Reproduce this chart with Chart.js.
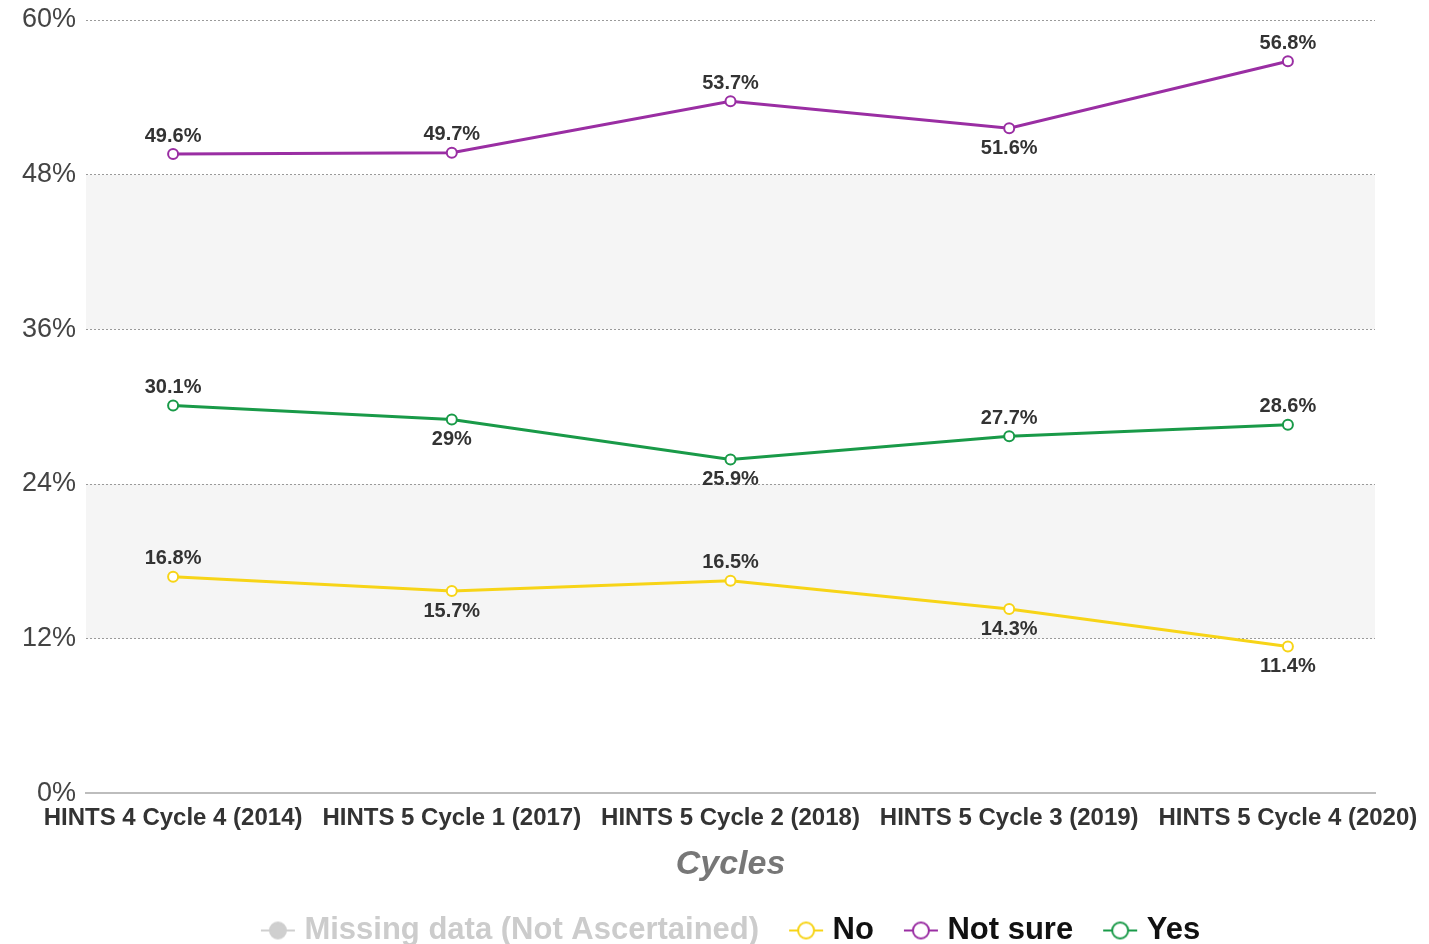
<!DOCTYPE html>
<html>
<head>
<meta charset="utf-8">
<script src="https://cdn.jsdelivr.net/npm/chart.js@4"></script>
<style>
  html, body { margin: 0; padding: 0; background: #fff; }
  #wrap { width: 1429px; height: 944px; }
</style>
</head>
<body>
<div id="wrap"><canvas id="grafico"></canvas></div>
<script>
// dati
var cicli = ['HINTS 4 Cycle 4 (2014)', 'HINTS 5 Cycle 1 (2017)', 'HINTS 5 Cycle 2 (2018)', 'HINTS 5 Cycle 3 (2019)', 'HINTS 5 Cycle 4 (2020)'];
var valoriNo = [16.8, 15.7, 16.5, 14.3, 11.4];
var valoriNonSicuro = [49.6, 49.7, 53.7, 51.6, 56.8];
var valoriSi = [30.1, 29, 25.9, 27.7, 28.6];
var tickY = [0, 12, 24, 36, 48, 60];

// etichette sopra (1) o sotto (-1) il punto
var posNo = [1, -1, 1, -1, -1];
var posNonSicuro = [1, 1, 1, -1, 1];
var posSi = [1, -1, -1, 1, 1];

var FONT = '"Liberation Sans", Arial, sans-serif';

function simbolo(colore, pieno) {
    var c = document.createElement('canvas');
    c.width = 44;
    c.height = 24;
    var g = c.getContext('2d');
    g.strokeStyle = colore;
    g.lineWidth = 2;
    g.beginPath();
    g.moveTo(8, 12);
    g.lineTo(42, 12);
    g.stroke();
    g.beginPath();
    g.arc(25, 12, 8, 0, Math.PI * 2);
    g.fillStyle = pieno ? colore : '#fff';
    g.fill();
    g.stroke();
    return c;
}

function serie(nome, dati, colore, pos) {
    return {
        label: nome,
        data: dati.map(function (v, i) { return {x: i, y: v}; }),
        borderColor: colore,
        backgroundColor: '#fff',
        borderWidth: 3,
        pointRadius: 5,
        pointBorderWidth: 2,
        pointBackgroundColor: '#fff',
        pointBorderColor: colore,
        tension: 0,
        posizioni: pos,
        pointStyle: 'circle',
        simbolo: simbolo(colore, false)
    };
}

var bande = {
    id: 'bande',
    beforeDraw: function (chart) {
        var ctx = chart.ctx;
        var area = chart.chartArea;
        var y = chart.scales.y;
        ctx.save();
        ctx.fillStyle = '#f5f5f5';
        [[12, 24], [36, 48]].forEach(function (b) {
            var top = y.getPixelForValue(b[1]);
            var bot = y.getPixelForValue(b[0]);
            ctx.fillRect(area.left, top, area.right - area.left, bot - top);
        });
        ctx.restore();
    }
};

var etichette = {
    id: 'etichette',
    afterDatasetsDraw: function (chart) {
        var ctx = chart.ctx;
        ctx.save();
        ctx.font = 'bold 20px ' + FONT;
        ctx.fillStyle = '#333';
        ctx.textAlign = 'center';
        ctx.textBaseline = 'middle';
        chart.data.datasets.forEach(function (ds, d) {
            if (!ds.posizioni) return;
            var meta = chart.getDatasetMeta(d);
            meta.data.forEach(function (p, i) {
                var off = ds.posizioni[i] > 0 ? -18 : 20;
                ctx.fillText(ds.data[i].y + '%', p.x, p.y + off);
            });
        });
        ctx.restore();
    }
};

var mancanti = {
    label: 'Missing data (Not Ascertained)',
    data: [],
    borderColor: '#ccc',
    backgroundColor: '#ccc',
    simbolo: simbolo('#cfcfcf', true),
    colTesto: '#cccccc'
};

var chart = new Chart(document.getElementById('grafico'), {
    type: 'line',
    data: {
        datasets: [
            mancanti,
            serie('No', valoriNo, '#f7d417', posNo),
            serie('Not sure', valoriNonSicuro, '#9a2ea3', posNonSicuro),
            serie('Yes', valoriSi, '#199a48', posSi)
        ]
    },
    plugins: [bande, etichette],
    options: {
        responsive: true,
        maintainAspectRatio: false,
        animation: false,
        layout: { padding: { top: 20, right: 54, left: 0, bottom: -12 } },
        plugins: {
            tooltip: { enabled: false },
            legend: {
                position: 'bottom',
                fullSize: false,
                labels: {
                    usePointStyle: true,
                    pointStyleWidth: 28,
                    padding: 30,
                    font: { family: FONT, size: 31, weight: 'bold' },
                    color: '#111',
                    generateLabels: function (chart) {
                        return chart.data.datasets.map(function (ds, i) {
                            return {
                                text: ds.label,
                                pointStyle: ds.simbolo,
                                fontColor: ds.colTesto || '#111',
                                strokeStyle: ds.borderColor,
                                fillStyle: ds.backgroundColor,
                                lineWidth: 0,
                                hidden: false,
                                datasetIndex: i
                            };
                        });
                    }
                }
            }
        },
        scales: {
            x: {
                type: 'linear',
                min: -0.3125,
                max: 4.3125,
                afterBuildTicks: function (scale) {
                    scale.ticks = cicli.map(function (c, i) { return {value: i}; });
                },
                afterFit: function (scale) {
                    scale.paddingLeft = 0;
                    scale.paddingRight = 0;
                },
                grid: { display: false, drawTicks: false },
                border: { display: true, color: '#bdbdbd', width: 2 },
                ticks: {
                    autoSkip: false,
                    maxRotation: 0,
                    padding: 11,
                    color: '#333',
                    font: { family: FONT, size: 24, weight: 'bold' },
                    callback: function (v) { return cicli[v]; }
                },
                title: {
                    display: true,
                    text: 'Cycles',
                    color: '#777',
                    padding: { top: 0, bottom: 0 },
                    font: { family: FONT, size: 34, weight: 'bold', style: 'italic' }
                }
            },
            y: {
                min: 0,
                max: 60,
                afterBuildTicks: function (scale) {
                    scale.ticks = tickY.map(function (v) { return {value: v}; });
                },
                afterFit: function (scale) {
                    scale.width = 86;
                    scale.paddingTop = 0;
                    scale.paddingBottom = 0;
                },
                grid: { color: '#9a9a9a', lineWidth: 1, drawTicks: false },
                border: { display: false, dash: [2, 2] },
                ticks: {
                    padding: 10,
                    color: '#444',
                    font: { family: FONT, size: 27 },
                    callback: function (v) { return v + '%'; }
                }
            }
        }
    }
});
</script>
</body>
</html>
